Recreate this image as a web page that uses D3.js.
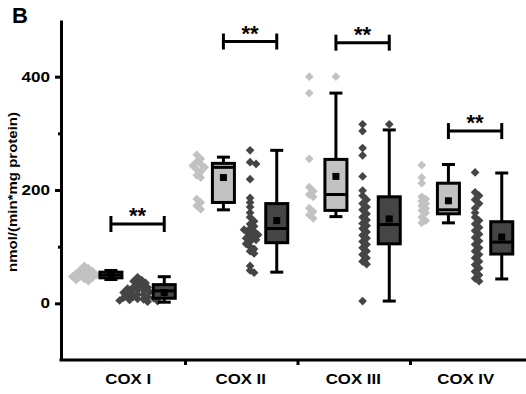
<!DOCTYPE html>
<html>
<head>
<meta charset="utf-8">
<script src="https://cdn.jsdelivr.net/npm/d3@7"></script>
<style>
  body { margin: 0; background: #fff; }
  text { font-family: "Liberation Sans", Arial, sans-serif; font-weight: bold; fill: #000; }
</style>
</head>
<body>
<div id="chart"></div>
<script>
// Categories
const categories = ["COX I", "COX II", "COX III", "COX IV"];

// Individual values, light group (one list per category)
const lightPoints = [
  [66, 62, 59, 57, 55, 53, 51, 50, 48, 47, 45, 43, 41, 39],
  [262, 255, 250, 246, 243, 240, 236, 232, 226, 222, 184, 178, 172, 166],
  [400, 371, 255, 205, 198, 192, 188, 168, 162, 156, 150],
  [244, 222, 212, 188, 184, 180, 176, 172, 168, 164, 160, 152, 146, 142]
];

// Individual values, dark group
const darkPoints = [
  [46, 41, 39, 36, 35, 31, 29, 28, 26, 24, 23, 21, 20, 19, 17, 16, 15, 14, 12, 11, 10, 9, 8, 7, 6, 5, 4, 3],
  [270, 249, 246, 219, 186, 178, 170, 160, 152, 145, 140, 136, 132, 130, 127, 124, 121, 118, 115, 112, 109, 105, 100, 96, 92, 88, 66, 58, 54],
  [316, 304, 274, 261, 224, 199, 190, 183, 176, 170, 165, 158, 152, 147, 141, 137, 132, 126, 120, 115, 109, 104, 98, 92, 86, 80, 74, 69, 4],
  [231, 196, 190, 183, 176, 168, 160, 152, 146, 140, 134, 128, 122, 116, 110, 104, 98, 92, 86, 80, 74, 68, 62, 56, 50, 44, 39]
];

// Box stats: [min, q1, median, q3, max, mean]
const lightBox = [
  [42, 45, 50, 55, 58, 50],
  [165, 178, 240, 247, 258, 222],
  [153, 164, 192, 254, 371, 224],
  [142, 158, 165, 212, 245, 181]
];
const darkBox = [
  [2, 9, 22, 33, 47, 19],
  [55, 107, 132, 176, 270, 146],
  [4, 105, 139, 188, 306, 149],
  [43, 87, 108, 144, 230, 117]
];
const lightOutliers = [[], [], [400], []];
const darkOutliers = [[], [], [316], []];

// Significance brackets
const sigLevel = [140, 462, 460, 304];
const sigText = ["**", "**", "**", "**"];

// Axis ticks
const yTicks = [0, 200, 400];
const yMinorTicks = [100, 300];

const W = 526, H = 394;
const lightFill = "#c2c2c2", darkFill = "#454545";

const svg = d3.select("#chart")
  .append("svg")
  .attr("width", W)
  .attr("height", H);

// Scales
const y = d3.scaleLinear().domain([-100, 500]).range([360, 20]);
const x = d3.scaleBand().domain(categories).range([68, 518]);
const sub = d3.scalePoint().domain(["ls", "lb", "ds", "db"]).range([-40, 40]);
const cx = (i, key) => x(categories[i]) + x.bandwidth() / 2 + sub(key);

// stretch text horizontally (figure was scaled non-uniformly)
function stretch(sel, k) {
  sel.each(function() {
    const L = this.getComputedTextLength();
    d3.select(this).attr("textLength", L * k).attr("lengthAdjust", "spacingAndGlyphs");
  });
}

// simple beeswarm placement
function swarm(values, baseX) {
  const placed = [];
  values.slice().sort((a, b) => b - a).forEach(v => {
    const py = y(v);
    let k = 0, px;
    while (true) {
      const off = k === 0 ? 0 : (k % 2 ? 1 : -1) * Math.ceil(k / 2) * 2;
      px = baseX + off;
      if (placed.every(p => Math.hypot(p.x - px, p.y - py) >= 4.5)) break;
      k++;
    }
    placed.push({ x: px, y: py });
  });
  return placed;
}

const diamond = d3.symbol(d3.symbolSquare, 38);

function drawPoints(pts, fill) {
  svg.append("g")
    .selectAll("path")
    .data(pts)
    .join("path")
    .attr("d", diamond)
    .attr("transform", d => `translate(${d.x},${d.y}) rotate(45)`)
    .attr("fill", fill);
}

categories.forEach((c, i) => {
  drawPoints(swarm(lightPoints[i], cx(i, "ls")), lightFill);
  drawPoints(swarm(darkPoints[i], cx(i, "ds")), darkFill);
});

// Boxes
function drawBox(i, stats, outliers, key, fill) {
  const [mn, q1, med, q3, mx, mean] = stats;
  const xc = cx(i, key);
  const bw = 22, cw = 13;
  const g = svg.append("g")
    .attr("stroke", "#000")
    .attr("stroke-width", 3);
  g.append("line").attr("x1", xc).attr("x2", xc).attr("y1", y(mx)).attr("y2", y(mn));
  g.append("line").attr("x1", xc - cw / 2).attr("x2", xc + cw / 2).attr("y1", y(mx)).attr("y2", y(mx));
  g.append("line").attr("x1", xc - cw / 2).attr("x2", xc + cw / 2).attr("y1", y(mn)).attr("y2", y(mn));
  g.append("rect")
    .attr("x", xc - bw / 2)
    .attr("y", y(q3))
    .attr("width", bw)
    .attr("height", y(q1) - y(q3))
    .attr("fill", fill);
  g.append("line").attr("x1", xc - bw / 2).attr("x2", xc + bw / 2).attr("y1", y(med)).attr("y2", y(med));
  svg.append("rect")
    .attr("x", xc - 3.5)
    .attr("y", y(mean) - 3.5)
    .attr("width", 7)
    .attr("height", 7)
    .attr("fill", "#000");
  drawPoints(outliers.map(v => ({ x: xc, y: y(v) })), fill);
}

categories.forEach((c, i) => {
  drawBox(i, lightBox[i], lightOutliers[i], "lb", lightFill);
  drawBox(i, darkBox[i], darkOutliers[i], "db", darkFill);
});

// Significance brackets
categories.forEach((c, i) => {
  const x1 = cx(i, "lb"), x2 = cx(i, "db"), yy = y(sigLevel[i]);
  const g = svg.append("g").attr("stroke", "#000").attr("stroke-width", 3);
  g.append("line").attr("x1", x1).attr("x2", x2).attr("y1", yy).attr("y2", yy);
  g.append("line").attr("x1", x1).attr("x2", x1).attr("y1", yy - 8).attr("y2", yy + 8);
  g.append("line").attr("x1", x2).attr("x2", x2).attr("y1", yy - 8).attr("y2", yy + 8);
  svg.append("text")
    .attr("x", (x1 + x2) / 2)
    .attr("y", yy - 1)
    .attr("text-anchor", "middle")
    .style("font-size", "22px")
    .text(sigText[i]);
});

// Y axis
const yAxis = svg.append("g")
  .attr("transform", "translate(61,0)")
  .call(d3.axisLeft(y).tickValues(yTicks).tickSize(6).tickSizeOuter(0).tickPadding(5));
yAxis.selectAll("path, line").attr("stroke-width", 3);
yAxis.selectAll("text").style("font-size", "14px").style("font-family", null).call(stretch, 1.22);

const yMinor = svg.append("g")
  .attr("transform", "translate(61,0)")
  .call(d3.axisLeft(y).tickValues(yMinorTicks).tickSize(3).tickFormat(""));
yMinor.select(".domain").remove();
yMinor.selectAll("line").attr("stroke-width", 3);

// X axis
const xAxis = svg.append("g")
  .attr("transform", "translate(0,360)")
  .call(d3.axisBottom(x).tickSize(0).tickPadding(14));
xAxis.select(".domain").remove();
xAxis.selectAll("text")
  .attr("dx", 4)
  .style("font-size", "14px")
  .style("font-family", null)
  .call(stretch, 1.2);

svg.append("line")
  .attr("x1", 59.5).attr("x2", 526)
  .attr("y1", 360).attr("y2", 360)
  .attr("stroke", "#000")
  .attr("stroke-width", 3);

svg.append("g")
  .selectAll("line")
  .data(categories.slice(0, 3))
  .join("line")
  .attr("x1", d => x(d) + x.step() + 5)
  .attr("x2", d => x(d) + x.step() + 5)
  .attr("y1", 360)
  .attr("y2", 365)
  .attr("stroke", "#000")
  .attr("stroke-width", 3);

// Y label
svg.append("text")
  .attr("transform", "rotate(-90)")
  .attr("x", -192)
  .attr("y", 17)
  .attr("text-anchor", "middle")
  .style("font-size", "13px")
  .text("nmol/(min*mg protein)")
  .call(function(sel) {
    sel.attr("textLength", 160).attr("lengthAdjust", "spacingAndGlyphs");
  });

// Panel letter
svg.append("text")
  .attr("x", 12)
  .attr("y", 23)
  .style("font-size", "22px")
  .text("B");
</script>
</body>
</html>
